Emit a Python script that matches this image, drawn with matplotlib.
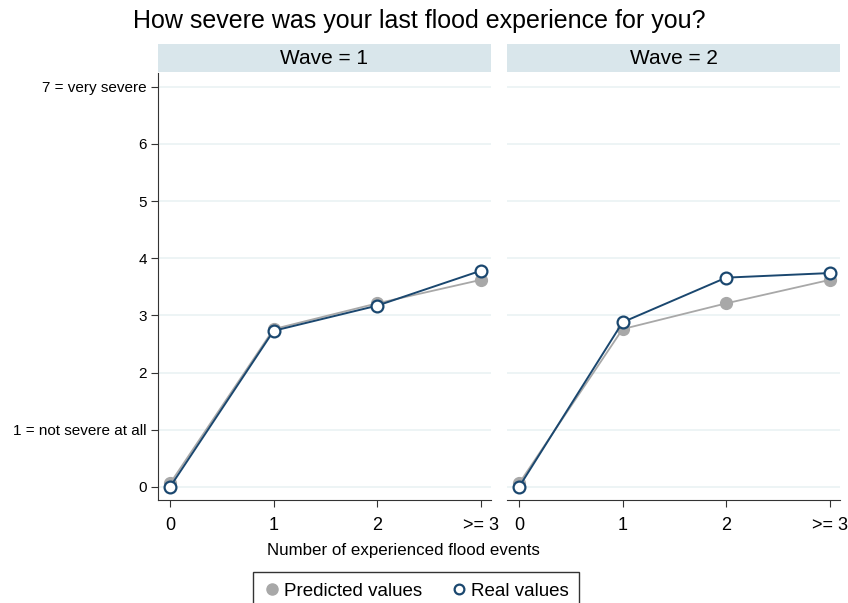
import matplotlib
matplotlib.use("Agg")
import matplotlib.pyplot as plt
from matplotlib.lines import Line2D

plt.rcParams['font.family'] = ['Liberation Sans', 'DejaVu Sans']

x_labels = ["0", "1", "2", ">= 3"]
y_labels = ["0", "1 = not severe at all", "2", "3", "4", "5", "6", "7 = very severe"]
waves = [1, 2]
predicted = {1: [0.06, 2.76, 3.21, 3.62], 2: [0.06, 2.76, 3.21, 3.62]}
real = {1: [0.0, 2.73, 3.17, 3.78], 2: [0.0, 2.88, 3.66, 3.74]}

navy = "#1a476f"
gray = "#a8a8a8"
strip = "#d9e6eb"
grid_c = "#eaf2f3"

fig = plt.figure(figsize=(8.48, 6.03), dpi=100)
panels = [(158, 491), (507, 840)]
top, bottom = 73, 500
W, H = 848, 603
xs = range(len(x_labels))

for i, (w, (l, r)) in enumerate(zip(waves, panels)):
    ax = fig.add_axes([l / W, 1 - bottom / H, (r - l) / W, (bottom - top) / H])
    ax.set_xlim(-0.117, 3.1)
    ax.set_ylim(-0.23, 7.24)
    for y in range(8):
        ax.axhline(y, color=grid_c, lw=1.2, zorder=0)
    ax.plot(xs, predicted[w], color=gray, lw=1.3, marker="o", ms=8.5,
            mfc=gray, mec=gray, zorder=2)
    ax.plot(xs, real[w], color=navy, lw=1.4, marker="o", ms=8.5,
            mfc="white", mec=navy, mew=1.6, zorder=3)
    for s in ["top", "right"]:
        ax.spines[s].set_visible(False)
    ax.spines["bottom"].set_color("#333333")
    ax.set_xticks(list(xs))
    ax.set_xticklabels(x_labels, fontsize=13)
    ax.tick_params(axis="x", length=5, width=0.8, pad=7, colors="#333333",
                   labelcolor="black")
    if i == 0:
        ax.spines["left"].set_color("#333333")
        ax.set_yticks(range(8))
        ax.set_yticklabels(y_labels, fontsize=11)
        ax.tick_params(axis="y", length=5, width=0.8, pad=3, colors="#333333",
                       labelcolor="black")
    else:
        ax.spines["left"].set_visible(False)
        ax.set_yticks([])
    # facet header band
    hdr = fig.add_axes([l / W, 1 - 72 / H, (r - l) / W, 28 / H])
    hdr.set_facecolor(strip)
    hdr.set_xticks([])
    hdr.set_yticks([])
    for s in hdr.spines.values():
        s.set_visible(False)
    hdr.text(0.5, 0.5, f"Wave = {w}", ha="center", va="center", fontsize=15)

fig.text(419 / W, 1 - 21 / H, "How severe was your last flood experience for you?",
         ha="center", va="center", fontsize=18)
fig.text(403 / W, 1 - 550 / H, "Number of experienced flood events",
         ha="center", va="center", fontsize=12.2)

handles = [
    Line2D([], [], ls="none", marker="o", ms=8, mfc=gray, mec=gray),
    Line2D([], [], ls="none", marker="o", ms=7, mfc="white", mec=navy, mew=1.6),
]
leg = fig.legend(handles, ["Predicted values", "Real values"], ncol=2,
                 loc="lower center", bbox_to_anchor=(416 / W, -0.027),
                 fontsize=13.5, frameon=True, fancybox=False, edgecolor="black",
                 handletextpad=0.2, columnspacing=1.5, handlelength=0.9,
                 borderpad=0.55)
leg.get_frame().set_linewidth(1.0)

fig.savefig("out.png", dpi=100)
